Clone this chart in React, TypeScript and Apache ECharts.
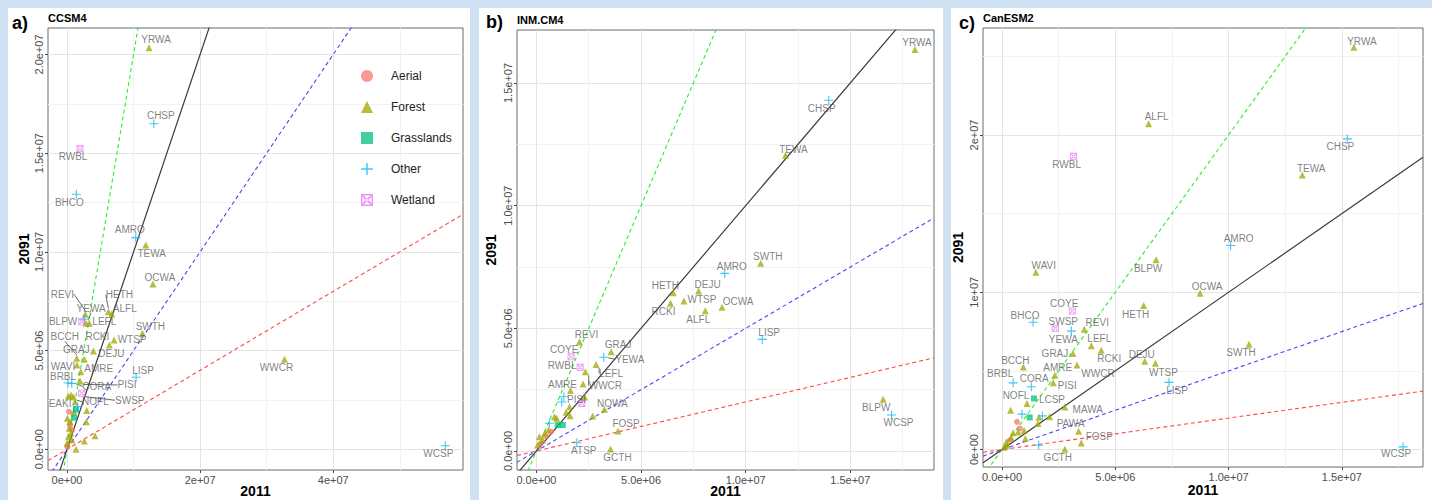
import React, { useEffect, useRef } from 'react';
import * as echarts from 'echarts';

// ---------- shared ----------
const HABITATS = ['Aerial', 'Forest', 'Grasslands', 'Other', 'Wetland'];
const HABITAT_COLORS = ['#F8766D', '#A3A500', '#00BF7D', '#00B0F6', '#E76BF3'];
const REF_SLOPES = [2, 1, 0.5, 0.2];
const REF_COLORS = ['#2aee2a', '#3a3a3a', '#4646ff', '#ff4a4a'];

// ---------- panel a: CCSM4 ----------
const ccsm4Codes = ['YRWA','CHSP','RWBL','BHCO','AMRO','TEWA','OCWA','HETH','ALFL','REVI','YEWA','BLPW','LEFL','SWTH','WTSP','RCKI','DEJU','GRAJ','BCCH','WAVI','AMRE','BRBL','PISI','CORA','LISP','WWCR','WCSP','SWSP','NOFL','EAKI',
  '','','','','','','','','','','','','','','','','','','','','','',''];
const ccsm4Habitat = ['Forest','Other','Wetland','Other','Other','Forest','Forest','Forest','Forest','Forest','Other','Forest','Forest','Forest','Forest','Forest','Forest','Forest','Forest','Forest','Forest','Other','Forest','Other','Other','Forest','Other','Wetland','Forest','Aerial',
  'Wetland','Forest','Forest','Grasslands','Other','Grasslands','Forest','Forest','Forest','Forest','Forest','Forest','Forest','Forest','Forest','Forest','Forest','Forest','Aerial','Aerial','Aerial','Forest','Forest'];
const ccsm4X2011 = [1.233e7,1.304e7,1.95e6,1.40e6,1.033e7,1.183e7,1.291e7,6.21e6,6.72e6,2.75e6,2.56e6,2.86e6,3.35e6,1.132e7,7.07e6,6.36e6,3.95e6,2.6e6,1.46e6,1.5e6,2.06e6,1.5e5,1.95e6,7.1e5,1.038e7,3.268e7,5.684e7,2.21e6,9.5e5,3e5,
  2.21e6,2e5,6e5,1.35e6,1.6e6,1.05e6,5e4,4.5e5,3.5e5,6e5,2e5,0,7.5e5,2.96e6,2.9e6,2.6e6,4.2e6,1.35e6,4.5e5,5e4,7.5e5,1.0e6,1.2e6];
const ccsm4Y2091 = [2.034e7,1.649e7,1.523e7,1.292e7,1.072e7,1.035e7,8.37e6,6.97e6,6.85e6,6.84e6,6.59e6,6.38e6,6.38e6,5.88e6,5.54e6,5.28e6,4.98e6,4.56e6,4.61e6,4.27e6,3.93e6,3.36e6,3.46e6,3.34e6,3.65e6,4.56e6,1.8e5,2.84e6,2.66e6,1.9e6,
  6.46e6,2.7e6,2.75e6,2.0e6,2.16e6,1.6e6,1.57e6,1.4e6,1.06e6,8.3e5,6.4e5,3e5,4.7e5,1.96e6,1.4e6,4.2e5,6.9e5,0,1.23e6,1.3e5,9.8e5,1.9e6,2.4e6];
const ccsm4XTicks = [0, 2e7, 4e7];
const ccsm4XTickLabels = ['0e+00', '2e+07', '4e+07'];
const ccsm4XMinor = [1e7, 3e7, 5e7];
const ccsm4YTicks = [0, 5e6, 1e7, 1.5e7, 2e7];
const ccsm4YTickLabels = ['0.0e+00', '5.0e+06', '1.0e+07', '1.5e+07', '2.0e+07'];
const ccsm4YMinor = [2.5e6, 7.5e6, 1.25e7, 1.75e7];

// ---------- panel b: INM.CM4 ----------
const inmCodes = ['YRWA','CHSP','TEWA','SWTH','AMRO','HETH','DEJU','WTSP','OCWA','RCKI','ALFL','LISP','REVI','COYE','GRAJ','YEWA','RWBL','LEFL','WWCR','AMRE','PISI','NOWA','FOSP','ATSP','GCTH','BLPW','WCSP',
  '','','','','','','','','','','','','','','','','','','','',''];
const inmHabitat = ['Forest','Other','Forest','Forest','Other','Forest','Forest','Forest','Forest','Forest','Forest','Other','Forest','Wetland','Forest','Other','Wetland','Forest','Forest','Forest','Forest','Forest','Forest','Other','Forest','Forest','Other',
  'Forest','Wetland','Other','Other','Forest','Forest','Forest','Forest','Forest','Forest','Forest','Forest','Forest','Forest','Forest','Grasslands','Grasslands','Other','Aerial','Aerial','Aerial'];
const inmX2011 = [1.809e7,1.397e7,1.19e7,1.072e7,9.0e6,6.54e6,7.75e6,7.05e6,8.87e6,6.41e6,8.07e6,1.079e7,2.06e6,1.66e6,3.57e6,3.22e6,2.09e6,2.85e6,2.34e6,1.63e6,2.3e6,3.25e6,3.9e6,1.93e6,3.54e6,1.657e7,1.697e7,
  2.23e6,2.17e6,1.31e6,1.21e6,1.58e6,1.42e6,1.61e6,2.69e6,8.6e5,9.7e5,5.7e5,1.4e5,3e5,4e5,6e4,1.02e6,1.26e6,6.2e5,7e5,4.5e5,2e5];
const inmY2091 = [1.637e7,1.43e7,1.205e7,7.65e6,7.24e6,6.45e6,6.52e6,6.11e6,5.86e6,6.02e6,5.72e6,4.55e6,4.45e6,3.84e6,4.05e6,3.82e6,3.41e6,3.53e6,3.23e6,2.47e6,2.2e6,1.7e6,8.2e5,3.4e5,8e4,2.11e6,1.47e6,
  2.73e6,1.94e6,2.21e6,2.0e6,1.8e6,1.58e6,1.44e6,1.43e6,1.4e6,1.34e6,8.6e5,5.8e5,4.5e5,7.3e5,2.4e5,1.06e6,1.06e6,1.13e6,7.9e5,6.1e5,3e5];
const inmXTicks = [0, 5e6, 1e7, 1.5e7];
const inmXTickLabels = ['0.0e+00', '5.0e+06', '1.0e+07', '1.5e+07'];
const inmXMinor = [2.5e6, 7.5e6, 1.25e7, 1.75e7];
const inmYTicks = [0, 5e6, 1e7, 1.5e7];
const inmYTickLabels = ['0.0e+00', '5.0e+06', '1.0e+07', '1.5e+07'];
const inmYMinor = [2.5e6, 7.5e6, 1.25e7];

// ---------- panel c: CanESM2 ----------
const canCodes = ['YRWA','ALFL','CHSP','RWBL','TEWA','AMRO','WAVI','BLPW','OCWA','HETH','COYE','BHCO','SWSP','YEWA','REVI','LEFL','RCKI','GRAJ','DEJU','WTSP','SWTH','WWCR','BCCH','AMRE','PISI','BRBL','CORA','LISP','LCSP','NOFL','MAWA','PAWA','FOSP','GCTH','WCSP',
  '','','','','','','','','','','','','','','','','','',''];
const canHabitat = ['Forest','Forest','Other','Wetland','Forest','Other','Forest','Forest','Forest','Forest','Wetland','Other','Wetland','Other','Forest','Forest','Forest','Forest','Forest','Forest','Forest','Forest','Forest','Forest','Forest','Other','Other','Other','Grasslands','Forest','Forest','Forest','Forest','Forest','Other',
  'Forest','Other','Grasslands','Other','Forest','Forest','Forest','Aerial','Aerial','Forest','Forest','Forest','Forest','Forest','Forest','Forest','Other','Forest','Aerial'];
const canX2011 = [1.553e7,6.47e6,1.524e7,3.16e6,1.325e7,1.009e7,1.49e6,6.8e6,8.74e6,6.25e6,3.1e6,1.37e6,2.35e6,3.06e6,3.63e6,3.94e6,4.38e6,3.13e6,6.3e6,6.77e6,1.09e7,3.31e6,9.4e5,2.33e6,2.26e6,4.9e5,1.29e6,7.37e6,1.41e6,1.1e6,2.77e6,3.38e6,3.5e6,2.77e6,1.77e7,
  3.8e5,8.8e5,1.22e6,1.78e6,2.1e6,1.59e6,1.63e6,6.6e5,7.8e5,4.9e5,7.1e5,9.7e5,1.03e6,2.3e5,1.9e5,4e5,1.62e6,9e4,3.5e5];
const canY2091 = [2.558e7,2.072e7,1.975e7,1.864e7,1.745e7,1.297e7,1.127e7,1.206e7,9.94e6,9.15e6,8.81e6,8.09e6,7.71e6,7.53e6,7.64e6,6.6e6,6.32e6,6.11e6,5.62e6,5.48e6,6.69e6,5.37e6,5.24e6,4.73e6,4.24e6,4.24e6,3.99e6,4.27e6,3.25e6,2.93e6,2.71e6,1.17e6,4.2e5,2e4,1.7e5,
  2.5e6,2.25e6,2.04e6,2.14e6,2.08e6,1.65e6,2.06e6,1.76e6,1.34e6,1.06e6,1.12e6,1.23e6,7e5,2.7e5,4.8e5,7.8e5,2.7e5,1.5e5,5.9e5];
const canXTicks = [0, 5e6, 1e7, 1.5e7];
const canXTickLabels = ['0.0e+00', '5.0e+06', '1.0e+07', '1.5e+07'];
const canXMinor = [2.5e6, 7.5e6, 1.25e7, 1.75e7];
const canYTicks = [0, 1e7, 2e7];
const canYTickLabels = ['0e+00', '1e+07', '2e+07'];
const canYMinor = [5e6, 1.5e7, 2.5e7];

// ---------- label placement (pixel offsets of the label centre from its point) ----------
const ccsm4LabelOffsets: Record<string, number[]> = {
  YRWA: [7, -8], CHSP: [7, -8], RWBL: [-7, 8], BHCO: [-7, 8], AMRO: [-6, -8], TEWA: [6, 9], OCWA: [7, -7],
  HETH: [11, -17], ALFL: [13, -6], REVI: [-23, -20], YEWA: [7, -11], BLPW: [-23, -2], LEFL: [15, -2],
  SWTH: [8, -7], WTSP: [18, 0], RCKI: [-12, -9], DEJU: [18, 3], GRAJ: [-8, -10], BCCH: [-12, -22],
  WAVI: [-14, 2], AMRE: [18, -3], BRBL: [-5, -6], PISI: [47, 4], CORA: [25, 3], LISP: [7, -7],
  WWCR: [-8, 8], WCSP: [-7, 8], SWSP: [48, 7], NOFL: [22, 5], EAKI: [-9, -8],
};
const ccsm4Leaders = ['HETH', 'REVI', 'YEWA', 'BCCH', 'PISI', 'CORA', 'SWSP', 'NOFL'];
const inmLabelOffsets: Record<string, number[]> = {
  YRWA: [2, -7], CHSP: [-7, 8], TEWA: [8, -6], SWTH: [7, -7], AMRO: [7, -7], HETH: [-8, -7], DEJU: [9, -7],
  WTSP: [18, -2], OCWA: [16, -6], RCKI: [-7, 8], ALFL: [-7, 9], LISP: [7, -7], REVI: [7, -7], COYE: [-7, -7],
  GRAJ: [7, -7], YEWA: [26, 2], RWBL: [-18, -2], LEFL: [15, 9], WWCR: [20, 14], AMRE: [-8, -6],
  PISI: [-8, 2], NOWA: [8, -6], FOSP: [8, -7], ATSP: [7, 8], GCTH: [7, 8], BLPW: [-7, 8], WCSP: [7, 8],
};
const inmLeaders = ['YEWA', 'LEFL', 'WWCR'];
const canLabelOffsets: Record<string, number[]> = {
  YRWA: [8, -6], ALFL: [8, -7], CHSP: [-7, 8], RWBL: [-7, 8], TEWA: [9, -7], AMRO: [8, -7], WAVI: [8, -7],
  BLPW: [-8, 9], OCWA: [7, -7], HETH: [-8, 9], COYE: [-8, -7], BHCO: [-8, -7], SWSP: [8, -7], YEWA: [-8, 8],
  REVI: [13, -7], LEFL: [8, -7], RCKI: [8, 8], GRAJ: [-18, 0], DEJU: [-3, -7], WTSP: [8, 9], SWTH: [-8, 8],
  WWCR: [21, 8], BCCH: [-8, -7], AMRE: [3, -8], PISI: [14, 3], BRBL: [-13, -9], CORA: [3, -8], LISP: [8, 8],
  LCSP: [18, 1], NOFL: [-11, -8], MAWA: [23, 3], PAWA: [-8, -8], FOSP: [18, -6], GCTH: [-7, 8], WCSP: [-7, 7],
};
const canLeaders: string[] = [];

const FONT = '"Liberation Sans", Arial, sans-serif';
const PLUS = 'path://M4.4,0H5.6V4.4H10V5.6H5.6V10H4.4V5.6H0V4.4H4.4Z';
const SQUARE_X = 'path://M0,0H10V10H0Z M1.2,1.2V8.8H8.8V1.2Z M1.2,2.2L2.2,1.2L8.8,7.8L7.8,8.8Z M8.8,2.2L7.8,1.2L1.2,7.8L2.2,8.8Z';
const HAB_SYMBOL = ['circle', 'triangle', 'rect', PLUS, SQUARE_X];
const HAB_SIZE = [6, 7, 6, 9, 7];

type PanelDef = {
  letter: string; title: string;
  codes: string[]; habs: string[]; xs: number[]; ys: number[];
  xRange: number[]; yRange: number[];
  xTicks: number[]; xTickLabels: string[]; xMinor: number[];
  yTicks: number[]; yTickLabels: string[]; yMinor: number[];
  offsets: Record<string, number[]>; leaders: string[];
  box: { left: number; top: number; width: number; height: number };
  panel: { x: number; w: number };
  letterX: number; letterY: number; titleY: number; yNameGap: number; xNameGap: number;
};

const PANELS: PanelDef[] = [
  {
    letter: 'a)', title: 'CCSM4', codes: ccsm4Codes, habs: ccsm4Habitat, xs: ccsm4X2011, ys: ccsm4Y2091,
    xRange: [-2.86e6, 5.95e7], yRange: [-1.05e6, 2.134e7],
    xTicks: ccsm4XTicks, xTickLabels: ccsm4XTickLabels, xMinor: ccsm4XMinor,
    yTicks: ccsm4YTicks, yTickLabels: ccsm4YTickLabels, yMinor: ccsm4YMinor,
    offsets: ccsm4LabelOffsets, leaders: ccsm4Leaders,
    box: { left: 48, top: 28, width: 415, height: 442 }, panel: { x: 8, w: 462 },
    letterX: 12, letterY: 23, titleY: 18, yNameGap: 17, xNameGap: 14,
  },
  {
    letter: 'b)', title: 'INM.CM4', codes: inmCodes, habs: inmHabitat, xs: inmX2011, ys: inmY2091,
    xRange: [-0.928e6, 1.9e7], yRange: [-0.774e6, 1.716e7],
    xTicks: inmXTicks, xTickLabels: inmXTickLabels, xMinor: inmXMinor,
    yTicks: inmYTicks, yTickLabels: inmYTickLabels, yMinor: inmYMinor,
    offsets: inmLabelOffsets, leaders: inmLeaders,
    box: { left: 517, top: 30, width: 417, height: 440 }, panel: { x: 479, w: 464 },
    letterX: 486, letterY: 22, titleY: 20, yNameGap: 19, xNameGap: 14,
  },
  {
    letter: 'c)', title: 'CanESM2', codes: canCodes, habs: canHabitat, xs: canX2011, ys: canY2091,
    xRange: [-0.84e6, 1.858e7], yRange: [-1.11e6, 2.68e7],
    xTicks: canXTicks, xTickLabels: canXTickLabels, xMinor: canXMinor,
    yTicks: canYTicks, yTickLabels: canYTickLabels, yMinor: canYMinor,
    offsets: canLabelOffsets, leaders: canLeaders,
    box: { left: 983, top: 28, width: 440, height: 439 }, panel: { x: 951, w: 481 },
    letterX: 959, letterY: 23, titleY: 18, yNameGap: 18, xNameGap: 16,
  },
];

function tickFormatter(ticks: number[], labels: string[]) {
  return (v: number) => {
    const i = ticks.findIndex((t) => Math.abs(t - v) < 1);
    return i >= 0 ? labels[i] : '';
  };
}

function buildOption() {
  const grids: any[] = [];
  const xAxes: any[] = [];
  const yAxes: any[] = [];
  const series: any[] = [];
  const graphics: any[] = [];
  const offsetLookup: Record<number, (number[] | null)[]> = {};

  PANELS.forEach((p, pi) => {
    grids.push({
      ...p.box, show: true, borderColor: '#6b6b6b', borderWidth: 1,
      backgroundColor: 'transparent', containLabel: false, outerBoundsMode: 'none',
    });
    const axisNameStyle = { fontWeight: 'bold', fontSize: 14, color: '#000', fontFamily: FONT };
    xAxes.push({
      type: 'value', gridIndex: pi, min: p.xRange[0], max: p.xRange[1], position: 'bottom',
      axisLine: { show: false, onZero: false },
      axisTick: { show: true, length: 3, lineStyle: { color: '#444' }, customValues: p.xTicks },
      axisLabel: { customValues: p.xTicks, formatter: tickFormatter(p.xTicks, p.xTickLabels), color: '#4d4d4d', fontSize: 11, margin: 4, fontFamily: FONT },
      splitLine: { show: true, lineStyle: { color: '#e4e4e4', width: 1 } },
      name: '2011', nameLocation: 'middle', nameGap: p.xNameGap, nameMoveOverlap: false, nameTextStyle: axisNameStyle,
    });
    xAxes.push({
      type: 'value', gridIndex: pi, min: p.xRange[0], max: p.xRange[1], position: 'top',
      axisLine: { show: false, onZero: false },
      axisTick: { show: false, customValues: p.xMinor },
      axisLabel: { show: false, customValues: p.xMinor },
      splitLine: { show: true, lineStyle: { color: '#f2f2f2', width: 1 } },
    });
    yAxes.push({
      type: 'value', gridIndex: pi, min: p.yRange[0], max: p.yRange[1], position: 'left',
      axisLine: { show: false, onZero: false },
      axisTick: { show: true, length: 3, lineStyle: { color: '#444' }, customValues: p.yTicks },
      axisLabel: { customValues: p.yTicks, formatter: tickFormatter(p.yTicks, p.yTickLabels), color: '#4d4d4d', fontSize: 11, margin: 4, rotate: 90, fontFamily: FONT },
      splitLine: { show: true, lineStyle: { color: '#e4e4e4', width: 1 } },
      name: '2091', nameLocation: 'middle', nameGap: p.yNameGap, nameTextStyle: axisNameStyle,
    });
    yAxes.push({
      type: 'value', gridIndex: pi, min: p.yRange[0], max: p.yRange[1], position: 'right',
      axisLine: { show: false, onZero: false },
      axisTick: { show: false, customValues: p.yMinor },
      axisLabel: { show: false, customValues: p.yMinor },
      splitLine: { show: true, lineStyle: { color: '#f2f2f2', width: 1 } },
    });

    // reference lines y = k x
    REF_SLOPES.forEach((k, ki) => {
      series.push({
        type: 'line', xAxisIndex: pi * 2, yAxisIndex: pi * 2, silent: true, z: 1,
        symbol: 'none', animation: false,
        data: [[p.xRange[0], k * p.xRange[0]], [p.xRange[1], k * p.xRange[1]]],
        lineStyle: { color: REF_COLORS[ki], width: ki === 1 ? 1.2 : 1.1, type: ki === 1 ? 'solid' : [4, 3] },
        emphasis: { disabled: true },
      });
    });

    // points per habitat
    HABITATS.forEach((hab, hi) => {
      const items: any[] = [];
      const offs: (number[] | null)[] = [];
      p.codes.forEach((code, i) => {
        if (p.habs[i] !== hab) return;
        items.push({
          value: [p.xs[i], p.ys[i]], name: code,
          label: { show: code !== '' },
          labelLine: { show: p.leaders.includes(code) },
        });
        offs.push(code ? (p.offsets[code] || [0, -8]) : null);
      });
      offsetLookup[series.length] = offs;
      series.push({
        type: 'scatter', name: hab, xAxisIndex: pi * 2, yAxisIndex: pi * 2, z: 3,
        symbol: HAB_SYMBOL[hi], symbolSize: HAB_SIZE[hi],
        itemStyle: { color: HABITAT_COLORS[hi], opacity: 0.75 },
        label: { show: false, position: 'inside', formatter: '{b}', color: '#555', fontSize: 10, fontFamily: FONT },
        labelLine: { show: false, lineStyle: { color: '#444', width: 0.8 } },
        labelLayout: (params: any) => {
          const o = offsetLookup[params.seriesIndex]?.[params.dataIndex];
          if (!o) return {};
          const r = params.rect;
          return { x: r.x + r.width / 2 + o[0], y: r.y + r.height / 2 + o[1], align: 'center', verticalAlign: 'middle' };
        },
        emphasis: { disabled: true },
        data: items,
      });
    });

    graphics.push({ type: 'rect', z: -1, shape: { x: p.panel.x, y: 8, width: p.panel.w, height: 500 }, style: { fill: '#ffffff' }, silent: true });
    graphics.push({ type: 'text', z: 10, x: p.letterX, y: p.letterY, style: { text: p.letter, font: `bold 18px ${FONT}`, fill: '#000', textVerticalAlign: 'middle' } });
    graphics.push({ type: 'text', z: 10, x: p.box.left, y: p.titleY, style: { text: p.title, font: `bold 11px ${FONT}`, fill: '#000', textVerticalAlign: 'middle' } });
  });

  return {
    animation: false,
    backgroundColor: '#cfe2f3',
    textStyle: { fontFamily: FONT },
    grid: grids,
    xAxis: xAxes,
    yAxis: yAxes,
    legend: {
      orient: 'vertical', left: 356, top: 65, itemWidth: 12, itemHeight: 12, itemGap: 19,
      selectedMode: false,
      data: HABITATS,
      textStyle: { fontSize: 12, color: '#222', fontFamily: FONT, padding: [0, 0, 0, 13] },
    },
    graphic: graphics,
    series,
  };
}

export default function App() {
  const ref = useRef<HTMLDivElement>(null);
  useEffect(() => {
    if (!ref.current) return;
    const chart = echarts.init(ref.current, null, { renderer: 'svg' });
    chart.setOption(buildOption() as any);
    return () => chart.dispose();
  }, []);
  return <div ref={ref} style={{ position: 'fixed', left: 0, top: 0, width: 1432, height: 500 }} />;
}
